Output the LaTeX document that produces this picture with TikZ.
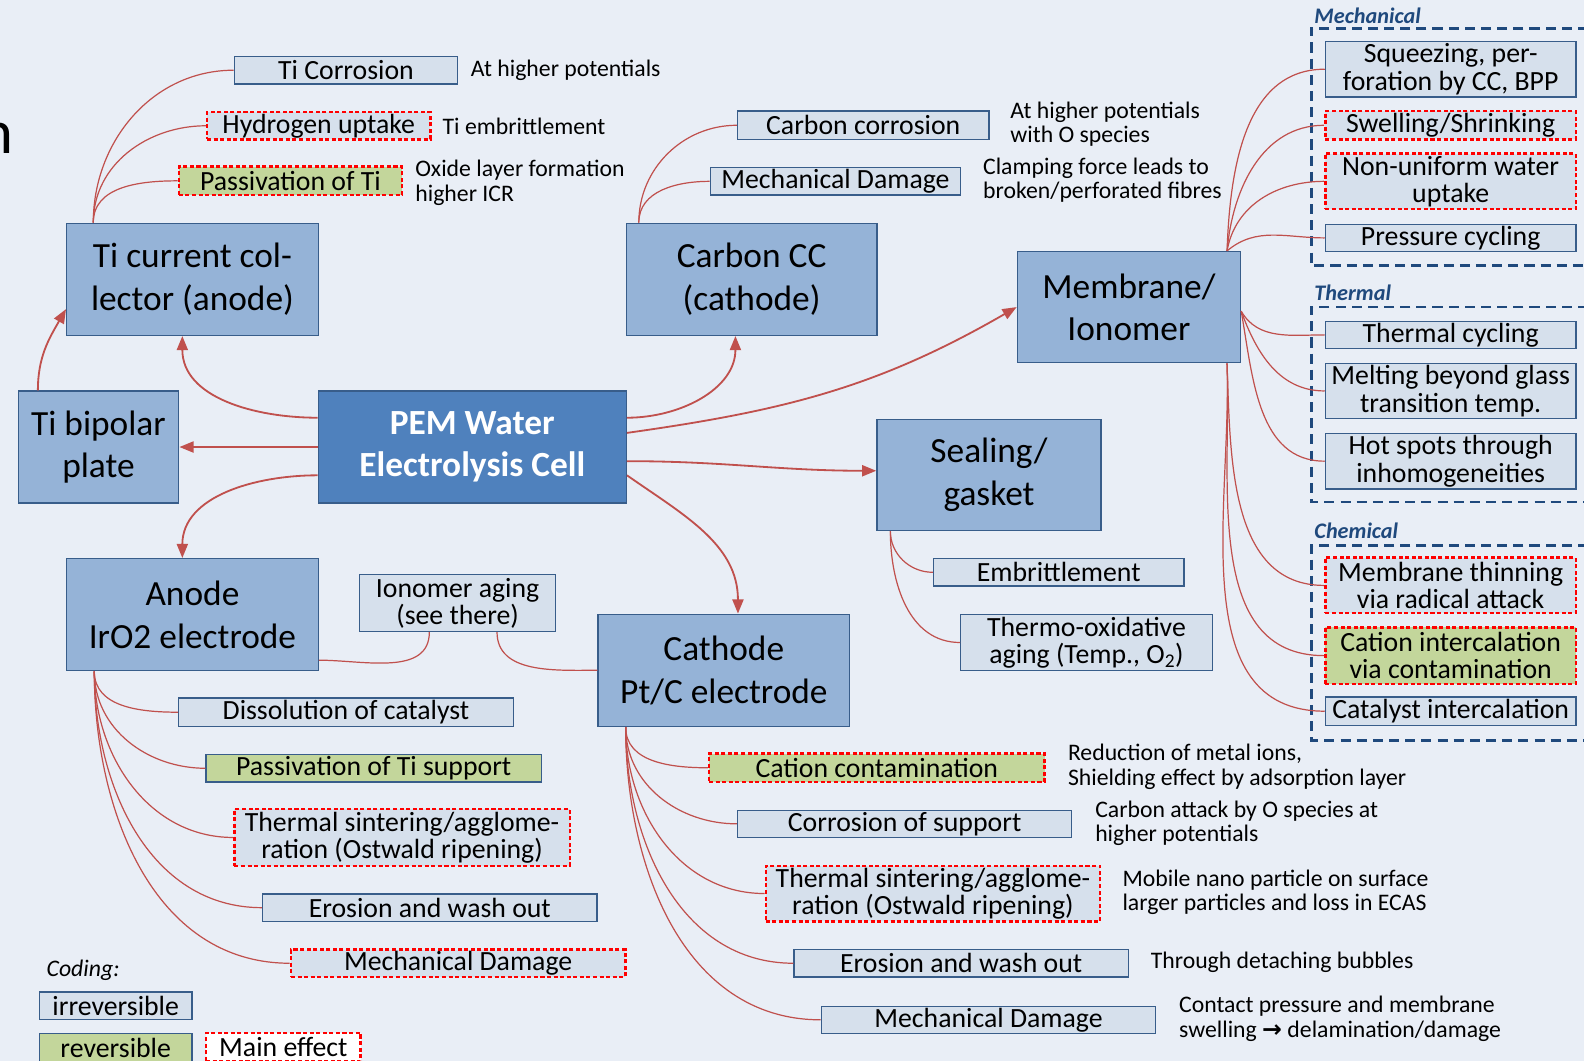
\documentclass[tikz,border=0pt]{standalone}
\usepackage{fontspec}
\setmainfont{Carlito}
\newfontfamily\symfont{DejaVu Sans}
\usetikzlibrary{arrows.meta}
\definecolor{bgcol}{HTML}{E9EEF6}
\definecolor{boxblue}{HTML}{95B3D7}
\definecolor{pemblue}{HTML}{4F81BD}
\definecolor{edgeblue}{HTML}{385D8A}
\definecolor{lightbox}{HTML}{D6E0EC}
\definecolor{revgreen}{HTML}{C3D69B}
\definecolor{linkred}{HTML}{C0504D}
\definecolor{groupblue}{HTML}{1F497D}
\tikzset{
  dims/.style 2 args={minimum width=#1pt, minimum height=#2pt},
  bignode/.style={draw=edgeblue, line width=1.3pt, fill=boxblue, inner sep=0pt, align=center, font=\fontsize{35}{42}\selectfont},
  pemnode/.style={bignode, fill=pemblue, text=white, font=\fontsize{35}{42}\selectfont\bfseries},
  itembox/.style={draw=edgeblue, line width=1.3pt, fill=lightbox, inner sep=0pt, align=center, font=\fontsize{27.5}{27}\selectfont},
  revbox/.style={itembox, fill=revgreen},
  mainfx/.style={draw=red, line width=2.4pt, dash pattern=on 4pt off 2.5pt},
  note/.style={anchor=west, inner sep=0pt, align=left, font=\fontsize{23.5}{24}\selectfont},
  grouplabel/.style={anchor=south west, inner sep=0pt, text=groupblue, font=\fontsize{22}{24}\selectfont\bfseries\itshape},
  groupframe/.style={draw=groupblue, line width=2.6pt, dash pattern=on 10pt off 6pt},
  link/.style={draw=linkred, line width=1.2pt},
  feed/.style={draw=linkred, line width=1.8pt, ->},
}
\begin{document}
\begin{tikzpicture}[x=1pt, y=-1pt, >={Triangle[length=14pt,width=11pt]}]
\useasboundingbox (0,0) rectangle (1568,1050);
\fill[bgcol] (0,0) rectangle (1568,1050);
\node[anchor=base east, inner sep=0pt, font=\fontsize{62}{62}\selectfont] (titlerest) at (13,152) {n};

% groups around the membrane
\draw[groupframe] (1620,28) -- (1298,28) -- (1298,263) -- (1620,263);
\draw[groupframe] (1620,304) -- (1298,304) -- (1298,497) -- (1620,497);
\draw[groupframe] (1620,540) -- (1298,540) -- (1298,733) -- (1620,733);
\node[grouplabel] (mechlabel) at (1301,24) {Mechanical};
\node[grouplabel] (thermlabel) at (1301,298) {Thermal};
\node[grouplabel] (chemlabel) at (1301,533) {Chemical};

% main components
\node[bignode, dims={249}{111}] (ticc) at (190.5,276.5) {Ti current col-\\lector (anode)};
\node[bignode, dims={248}{111}] (carbcc) at (744,276.5) {Carbon CC\\(cathode)};
\node[bignode, dims={221}{110}] (membrane) at (1117.5,304) {Membrane/\\Ionomer};
\node[bignode, dims={159}{111}] (tibpp) at (97.5,442.5) {Ti bipolar\\plate};
\node[pemnode, dims={305}{111}] (pem) at (467.5,442.5) {PEM Water\\Electrolysis Cell};
\node[bignode, dims={222}{110}] (sealing) at (979,470) {Sealing/\\gasket};
\node[bignode, dims={249}{111}] (anode) at (190.5,608.5) {Anode\\IrO2 electrode};
\node[bignode, dims={249}{111}] (cathode) at (716.5,663.5) {Cathode\\Pt/C electrode};

% Ti current collector
\node[itembox, dims={221}{27}] (ticorr) at (342.5,69.5) {Ti Corrosion};
\node[itembox, mainfx, dims={221}{27}] (hydro) at (315.5,124.5) {Hydrogen uptake};
\node[revbox, mainfx, dims={221}{28}] (passti) at (287.5,179) {Passivation of Ti};
\node[note] (ticorrnote) at (466,70) {At higher potentials};
\node[note] (hydronote) at (438,125) {Ti embrittlement};
\node[note] (passtinote) at (411,181) {Oxide layer formation\\higher ICR};

% carbon CC
\node[itembox, dims={249}{28}] (carbcorr) at (854.5,124) {Carbon corrosion};
\node[itembox, dims={248}{27}] (carbmech) at (827,179.5) {Mechanical Damage};
\node[note] (carbcorrnote) at (1000,123) {At higher potentials\\with O species};
\node[note] (carbmechnote) at (973,178.5) {Clamping force leads to\\broken/perforated fibres};

% membrane
\node[itembox, dims={248}{55}] (squeeze) at (1436,68.5) {Squeezing, per-\\foration by CC, BPP};
\node[itembox, mainfx, dims={248}{28}] (swell) at (1436,124) {Swelling/Shrinking};
\node[itembox, mainfx, dims={248}{55}] (nonuni) at (1436,179.5) {Non-uniform water\\uptake};
\node[itembox, dims={248}{27}] (pressure) at (1436,235.5) {Pressure cycling};
\node[itembox, dims={248}{27}] (thcyc) at (1436,331.5) {Thermal cycling};
\node[itembox, dims={248}{54}] (melting) at (1436,387) {Melting beyond glass\\transition temp.};
\node[itembox, dims={248}{55}] (hotspot) at (1436,456.5) {Hot spots through\\inhomogeneities};
\node[itembox, mainfx, dims={248}{55}] (thinning) at (1436,579.5) {Membrane thinning\\via radical attack};
\node[revbox, mainfx, dims={248}{56}] (cation) at (1436,649) {Cation intercalation\\via contamination};
\node[itembox, dims={248}{28}] (catalyst) at (1436,704) {Catalyst intercalation};

% sealing
\node[itembox, dims={248}{27}] (embr) at (1048,566.5) {Embrittlement};
\node[itembox, dims={249}{56}] (thermox) at (1075.5,636) {Thermo-oxidative\\aging (Temp., O\textsubscript{2})};

% anode
\node[itembox, dims={194}{56}] (ionomer) at (453,597) {Ionomer aging\\(see there)};
\node[itembox, dims={331}{28}] (dissol) at (342.5,705) {Dissolution of catalyst};
\node[revbox, dims={332}{27}] (passsup) at (370,760.5) {Passivation of Ti support};
\node[itembox, mainfx, dims={332}{56}] (sinteranode) at (398,829) {Thermal sintering/agglome-\\ration (Ostwald ripening)};
\node[itembox, dims={331}{27}] (erosanode) at (425.5,898.5) {Erosion and wash out};
\node[itembox, mainfx, dims={331}{27}] (mechanode) at (453.5,953.5) {Mechanical Damage};

% cathode
\node[revbox, mainfx, dims={332}{28}] (catcont) at (868,760) {Cation contamination};
\node[itembox, dims={331}{27}] (corrsup) at (895.5,815.5) {Corrosion of support};
\node[itembox, mainfx, dims={331}{55}] (sintercath) at (923.5,884.5) {Thermal sintering/agglome-\\ration (Ostwald ripening)};
\node[itembox, dims={331}{27}] (eroscath) at (951.5,953.5) {Erosion and wash out};
\node[itembox, dims={331}{27}] (mechcath) at (978.5,1009.5) {Mechanical Damage};
\node[note] (catcontnote) at (1057,759) {Reduction of metal ions,\\Shielding effect by adsorption layer};
\node[note] (corrsupnote) at (1084,815) {Carbon attack by O species at\\higher potentials};
\node[note] (sintercathnote) at (1111,883.5) {Mobile nano particle on surface\\larger particles and loss in ECAS};
\node[note] (eroscathnote) at (1139,953) {Through detaching bubbles};
\node[note] (mechcathnote) at (1167,1008.5) {Contact pressure and membrane\\swelling {\symfont\bfseries →} delamination/damage};

% legend
\node[note, font=\fontsize{23.5}{24}\selectfont\itshape] (coding) at (46,960) {Coding:};
\node[itembox, dims={151}{27}] (irrev) at (114.5,995.5) {irreversible};
\node[revbox, dims={151}{28}] (rev) at (114.5,1037) {reversible};
\node[itembox, mainfx, fill=white, dims={153}{28}] (mainfxkey) at (280.5,1036.5) {Main effect};

% arrows from the cell
\draw[feed] (pem.west) -- (tibpp.east);
\draw[feed] ([xshift=-60pt]tibpp.north) to[out=90,in=240] ([yshift=-29.5pt]ticc.west);
\draw[feed] ([yshift=29pt]pem.west) to[out=180,in=-90] ([xshift=-10pt]ticc.south);
\draw[feed] ([yshift=-28pt]pem.west) to[out=180,in=90] ([xshift=-10pt]anode.north);
\draw[feed] ([yshift=29pt]pem.east) to[out=0,in=-90] ([xshift=-16pt]carbcc.south);
\draw[feed] ([yshift=14pt]pem.east) to[out=8,in=210] (membrane.west);
\draw[feed] ([yshift=-14pt]pem.east) to[out=0,in=180] ([yshift=4pt]sealing.west);
\draw[feed] ([yshift=-28pt]pem.east) to[out=-35,in=90] ([xshift=14pt]cathode.north);

% degradation links
\foreach \t in {ticorr,hydro,passti}
  \draw[link] ([xshift=27pt]ticc.north west) to[out=90,in=180] (\t.west);
\foreach \t in {carbcorr,carbmech}
  \draw[link] ([xshift=13pt]carbcc.north west) to[out=90,in=180] (\t.west);
\foreach \t/\a in {squeeze/88,swell/85,nonuni/80,pressure/40}
  \draw[link] ([xshift=-14pt]membrane.north east) to[out=\a,in=180] (\t.west);
\foreach \t/\a in {thcyc/-60,melting/-70,hotspot/-80}
  \draw[link] ([yshift=-4pt]membrane.east) to[out=\a,in=180] (\t.west);
\foreach \t in {thinning,cation,catalyst}
  \draw[link] ([xshift=-14pt]membrane.south east) to[out=-88,in=180] (\t.west);
\foreach \t in {embr,thermox}
  \draw[link] ([xshift=14pt]sealing.south west) to[out=-90,in=180] (\t.west);
\foreach \t in {dissol,passsup,sinteranode,erosanode,mechanode}
  \draw[link] ([xshift=28pt]anode.south west) to[out=-90,in=180] (\t.west);
\foreach \t in {catcont,corrsup,sintercath,eroscath,mechcath}
  \draw[link] ([xshift=28pt]cathode.south west) to[out=-90,in=180] (\t.west);
\draw[link] ([yshift=-45pt]anode.east) to[out=0,in=-90] ([xshift=-28pt]ionomer.south);
\draw[link] (cathode.west) to[out=180,in=-90] ([xshift=39pt]ionomer.south);
\end{tikzpicture}
\end{document}
